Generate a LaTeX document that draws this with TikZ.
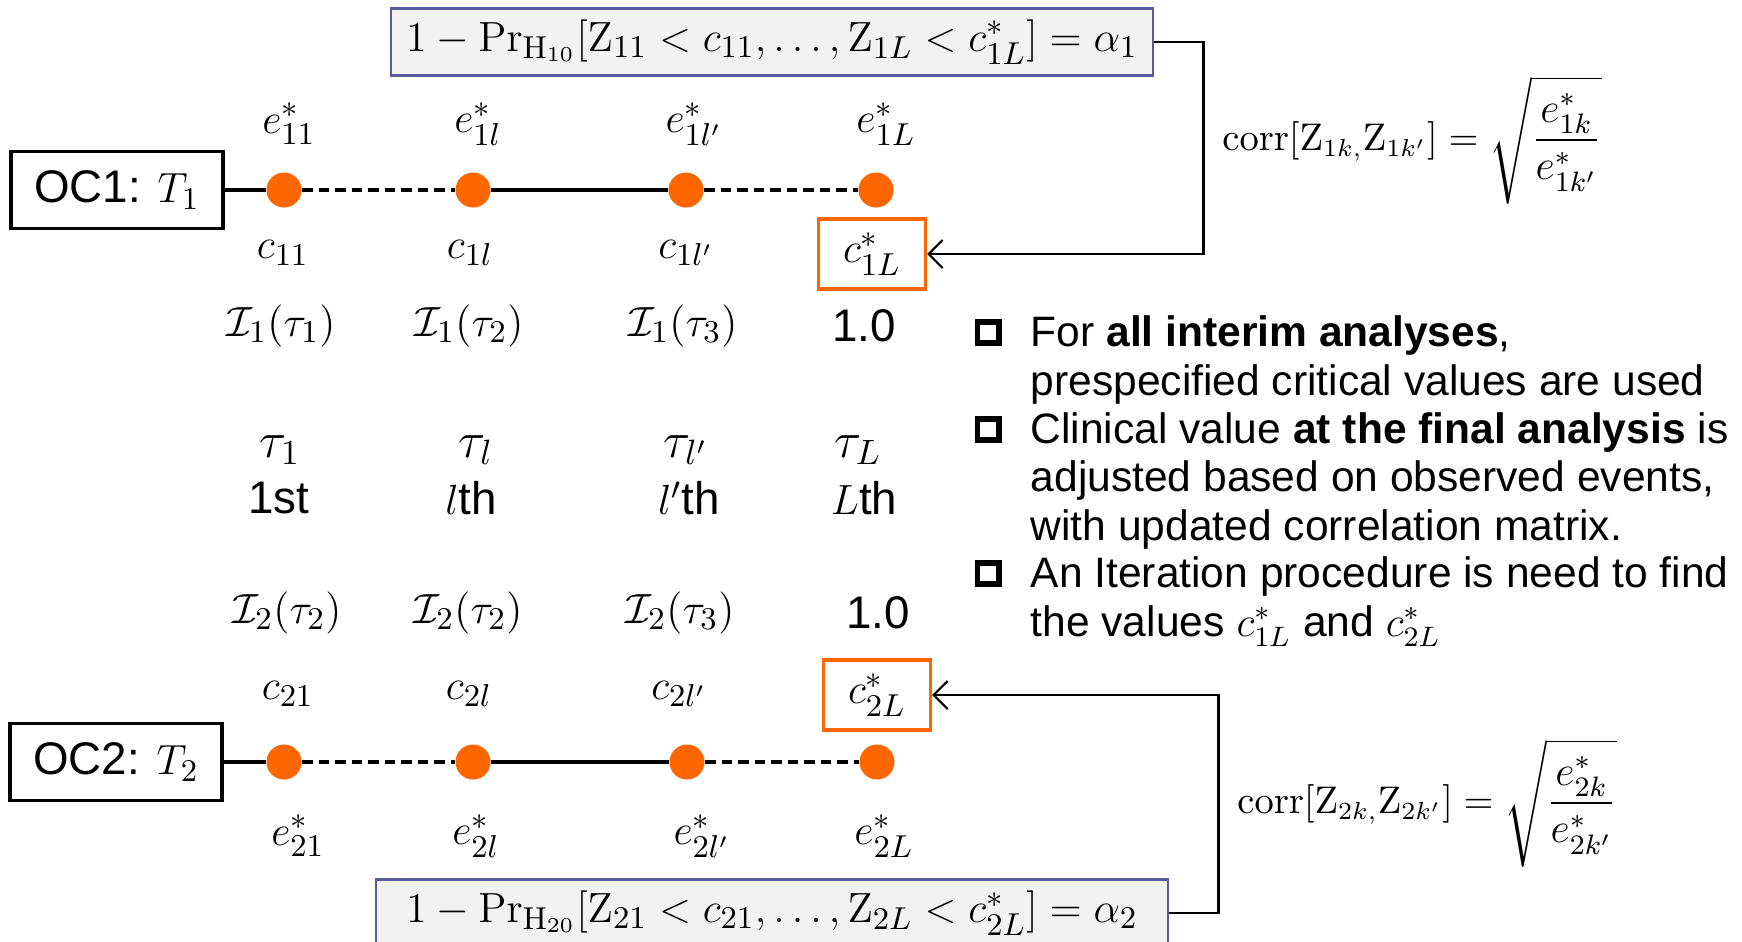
\documentclass[tikz,border=0pt]{standalone}
\usepackage{amsmath}
\usepackage[no-math]{fontspec}
\setmainfont{Liberation Sans}
\usetikzlibrary{arrows.meta}
\definecolor{dotorange}{HTML}{FF6600}
\definecolor{frameblue}{HTML}{5A5A9C}
\definecolor{boxgray}{HTML}{F2F2F2}

\begin{document}
\begin{tikzpicture}[x=0.01cm,y=-0.01cm,
  lbl/.style={inner sep=0pt,font=\fontsize{13}{15}\selectfont},
  taul/.style={inner sep=0pt,font=\fontsize{14}{16}\selectfont},
  bigl/.style={inner sep=0pt,font=\fontsize{13}{15}\selectfont},
  ocbox/.style={draw,line width=1pt,minimum width=2.12cm,minimum height=0.77cm,inner sep=0pt,font=\fontsize{13}{15}\selectfont},
  formulabox/.style={draw=frameblue,fill=boxgray,line width=0.7pt,minimum height=0.67cm,inner sep=0pt,font=\fontsize{12.5}{14}\selectfont},
  critbox/.style={draw=dotorange,line width=0.9pt,minimum width=1.07cm,minimum height=0.7cm,inner sep=0pt,font=\fontsize{13}{15}\selectfont},
  evdot/.style={circle,fill=dotorange,minimum size=0.35cm,inner sep=0pt},
  track/.style={line width=1pt},
  dashtrack/.style={line width=1pt,dash pattern=on 3pt off 1.7pt},
  link/.style={line width=0.6pt,-{Straight Barb[length=4pt,width=8pt]}},
  bullsq/.style={draw,line width=1.7pt,minimum size=0.21cm,inner sep=0pt},
  bulltext/.style={inner sep=0pt,align=left,font=\fontsize{12.1}{13.66}\selectfont},
  corrtext/.style={inner sep=0pt,font=\fontsize{10.5}{12}\selectfont}]
\useasboundingbox (0,0) rectangle (1742,941);

% Top formula
\node[formulabox,minimum width=7.62cm] (prob1) at (772,42) {$1-\mathrm{Pr}_{\mathrm{H}_{10}}[\mathrm{Z}_{11}<c_{11},\dots,\mathrm{Z}_{1L}<c^*_{1L}]=\alpha_1$};
\node[corrtext] (corr1) at (1412,140) {$\mathrm{corr}[\mathrm{Z}_{1k,}\mathrm{Z}_{1k'}] = {}$\fontsize{12}{14}\selectfont$\sqrt{\dfrac{e^*_{1k}}{e^*_{1k'}}}$};

% OC1 timeline
\node[ocbox] (oc1) at (117,190) {OC1: $T_1$};
\node[evdot] (d11) at (284,190) {};
\node[evdot] (d12) at (473,190) {};
\node[evdot] (d13) at (686,190) {};
\node[evdot] (d14) at (876,190) {};
\draw[track] (oc1) -- (d11);
\draw[dashtrack] (d11) -- (d12);
\draw[track] (d12) -- (d13);
\draw[dashtrack] (d13) -- (d14);

\node[lbl] (e11) at (289,124) {$e^*_{11}$};
\node[lbl] (e12) at (478,124) {$e^*_{1l}$};
\node[lbl] (e13) at (694,124) {$e^*_{1l'}$};
\node[lbl] (e14) at (886,124) {$e^*_{1L}$};

\node[lbl] (c11) at (283,253) {$c_{11}$};
\node[lbl] (c12) at (470,253) {$c_{1l}$};
\node[lbl] (c13) at (686,253) {$c_{1l'}$};
\node[critbox] (cstar1) at (872,254) {$c^*_{1L}$};
\draw[link] (prob1.east) -- ++(49,0) |- (cstar1.east);

\node[lbl] (i11) at (281,326) {$\mathcal{I}_1(\tau_1)$};
\node[lbl] (i12) at (469,326) {$\mathcal{I}_1(\tau_2)$};
\node[lbl] (i13) at (683,326) {$\mathcal{I}_1(\tau_3)$};
\node[bigl] (i14) at (864,326) {1.0};

% Analysis times
\node[taul] (t1) at (280,450) {$\tau_1$};
\node[taul] (t2) at (476,450) {$\tau_l$};
\node[taul] (t3) at (686,450) {$\tau_{l'}$};
\node[taul] (t4) at (858,450) {$\tau_L$};
\node[bigl] (n1) at (279,498) {1st};
\node[bigl] (n2) at (471,498) {$l$th};
\node[bigl] (n3) at (689,498) {$l'$th};
\node[bigl] (n4) at (864,498) {$L$th};

% OC2 timeline
\node[lbl] (i21) at (287,613) {$\mathcal{I}_2(\tau_2)$};
\node[lbl] (i22) at (468,613) {$\mathcal{I}_2(\tau_2)$};
\node[lbl] (i23) at (680,613) {$\mathcal{I}_2(\tau_3)$};
\node[bigl] (i24) at (878,613) {1.0};

\node[lbl] (c21) at (288,694) {$c_{21}$};
\node[lbl] (c22) at (469,694) {$c_{2l}$};
\node[lbl] (c23) at (679,694) {$c_{2l'}$};
\node[critbox] (cstar2) at (877,695) {$c^*_{2L}$};

\node[ocbox] (oc2) at (116,762) {OC2: $T_2$};
\node[evdot] (d21) at (284,762) {};
\node[evdot] (d22) at (473,762) {};
\node[evdot] (d23) at (687,762) {};
\node[evdot] (d24) at (877,762) {};
\draw[track] (oc2) -- (d21);
\draw[dashtrack] (d21) -- (d22);
\draw[track] (d22) -- (d23);
\draw[dashtrack] (d23) -- (d24);

\node[lbl] (e21) at (298,836) {$e^*_{21}$};
\node[lbl] (e22) at (476,836) {$e^*_{2l}$};
\node[lbl] (e23) at (702,836) {$e^*_{2l'}$};
\node[lbl] (e24) at (884,836) {$e^*_{2L}$};

% Bottom formula
\node[formulabox,minimum width=7.92cm] (prob2) at (772,913) {$1-\mathrm{Pr}_{\mathrm{H}_{20}}[\mathrm{Z}_{21}<c_{21},\dots,\mathrm{Z}_{2L}<c^*_{2L}]=\alpha_2$};
\node[corrtext] (corr2) at (1427,803) {$\mathrm{corr}[\mathrm{Z}_{2k,}\mathrm{Z}_{2k'}] = {}$\fontsize{12}{14}\selectfont$\sqrt{\dfrac{e^*_{2k}}{e^*_{2k'}}}$};
\draw[link] (prob2.east) -- ++(49,0) |- (cstar2.east);

% Notes
\node[bullsq] (sq1) at (988,332) {};
\node[bullsq] (sq2) at (988,429) {};
\node[bullsq] (sq3) at (988,573) {};
\node[bulltext,anchor=base west] (b1) at (1030,395) {For \textbf{all interim analyses},\\prespecified critical values are used};
\node[bulltext,anchor=base west] (b2) at (1030,540) {Clinical value \textbf{at the final analysis} is\\adjusted based on observed events,\\with updated correlation matrix.};
\node[bulltext,anchor=base west] (b3) at (1030,636) {An Iteration procedure is need to find\\the values $c^*_{1L}$ and $c^*_{2L}$};
\end{tikzpicture}
\end{document}
